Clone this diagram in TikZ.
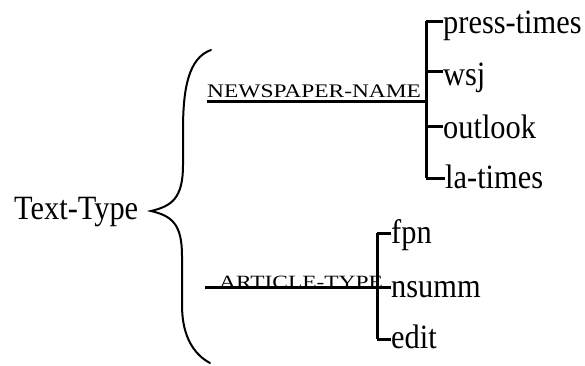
\documentclass[tikz,border=0pt]{standalone}
\usepackage{fontspec}
\setmainfont{Liberation Serif}
\newcommand{\bigtxt}[1]{\scalebox{1}[1.12]{#1}}
\begin{document}
\begin{tikzpicture}[x=1bp,y=-1bp,
  big/.style={font=\fontsize{30.5}{31}\selectfont, inner sep=0pt, anchor=base west},
  small/.style={font=\fontsize{23.5}{24}\selectfont, inner sep=0pt, anchor=base west},
  bar/.style={line width=3bp},
  brace/.style={line width=2bp, line cap=round}]
\useasboundingbox (0,0) rectangle (585,365);
% root
\node[big] (tt) at (14,219) {\bigtxt{Text-Type}};
\coordinate (tip) at (151,211);
\coordinate (btop) at (211,50);
\coordinate (bbot) at (210,363);
\draw[brace] (btop) .. controls (188,58) and (183,90) .. (183,130) -- (183,165)
  .. controls (183,198) and (172,206) .. (tip)
  .. controls (172,216) and (182,224) .. (182,256) -- (182,305)
  .. controls (182,338) and (195,355) .. (bbot);
% upper group
\node[small] (nn) at (207,97) {\scalebox{1}[0.82]{NEWSPAPER-NAME}};
\coordinate (n0) at (207,101);
\coordinate (nb) at (426,101);
\coordinate (nt) at (426,21);
\coordinate (nl) at (426,178);
\draw[bar] (n0) -- (nb);
\draw[bar] (nt) -- (nl);
\node[big] (pt) at (443,33) {\bigtxt{press-times}};
\node[big] (ws) at (443,85) {\bigtxt{wsj}};
\node[big] (ol) at (443,138) {\bigtxt{outlook}};
\node[big] (lt) at (445,188) {\bigtxt{la-times}};
\draw[bar] (nt) -- (nt -| pt.west);
\draw[bar] (426,71) coordinate (nw) -- (nw -| ws.west);
\draw[bar] (426,126) coordinate (no) -- (no -| ol.west);
\draw[bar] (nl) -- (nl -| lt.west);
% lower group
\node[small] (at) at (219,288) {\scalebox{1}[0.8]{ARTICLE-TYPE}};
\coordinate (a0) at (205,287);
\coordinate (at0) at (377,233);
\coordinate (al) at (377,339);
\node[big] (fp) at (391,243) {\bigtxt{fpn}};
\node[big] (ns) at (391,297) {\bigtxt{nsumm}};
\node[big] (ed) at (391,348) {\bigtxt{edit}};
\draw[bar] (a0) -- (a0 -| ns.west);
\draw[bar] (at0) -- (al);
\draw[bar] (at0) -- (at0 -| fp.west);
\draw[bar] (al) -- (al -| ed.west);
\end{tikzpicture}
\end{document}
